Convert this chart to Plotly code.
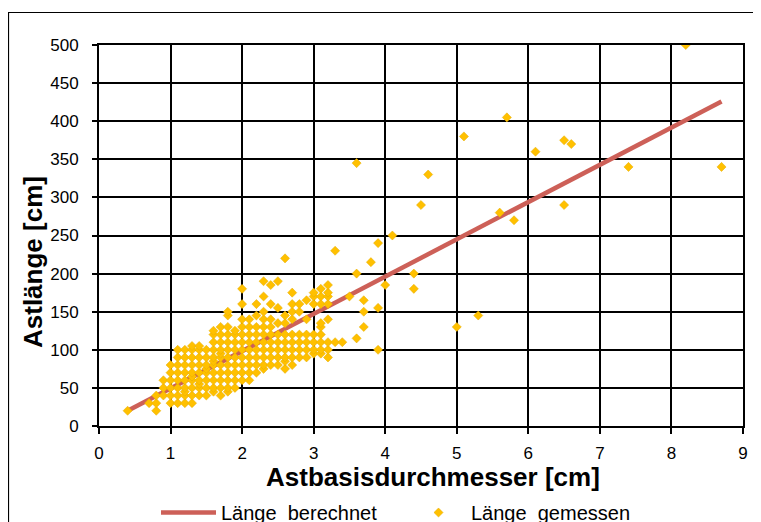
import plotly.graph_objects as go

# Regression line (Länge berechnet)
line_x = [0.4, 8.7]
line_y = [20, 426]

# Measured values (Länge gemessen), grouped by diameter column
col_x = [0.4, 0.7, 0.8, 0.9, 1.0, 1.1, 1.2, 1.3, 1.4, 1.5, 1.6, 1.7, 1.8, 1.9,
         2.0, 2.1, 2.2, 2.3, 2.4, 2.5, 2.6, 2.7, 2.8, 2.9, 3.0, 3.1, 3.2, 3.3,
         3.4, 3.5, 3.6, 3.7, 3.8, 3.9, 4.0, 4.1, 4.4, 4.5, 4.6, 5.0, 5.1, 5.3,
         5.6, 5.7, 5.8, 6.1, 6.5, 6.6, 7.4, 8.2, 8.7]
col_y = [
    [20],
    [30],
    [20, 30, 40],
    [40, 50, 60],
    [30, 40, 50, 60, 70, 80],
    [30, 40, 50, 60, 70, 80, 90, 100],
    [30, 40, 45, 50, 60, 70, 80, 90, 100],
    [30, 40, 50, 60, 65, 70, 80, 90, 100, 105],
    [40, 50, 55, 60, 70, 80, 90, 100, 105],
    [40, 50, 60, 70, 75, 80, 90, 100],
    [45, 50, 60, 70, 80, 85, 90, 100, 110, 120, 125],
    [40, 50, 60, 70, 80, 90, 95, 100, 110, 120, 130],
    [45, 50, 60, 70, 80, 90, 100, 110, 120, 130, 145, 150],
    [50, 60, 70, 80, 90, 100, 110, 120, 125],
    [60, 70, 80, 90, 100, 110, 120, 130, 140, 160, 180],
    [60, 70, 80, 90, 100, 110, 120, 130, 140],
    [70, 80, 90, 100, 110, 120, 130, 145, 160],
    [75, 80, 90, 100, 110, 120, 130, 140, 150, 170, 190],
    [80, 90, 100, 110, 120, 130, 140, 160, 185],
    [80, 90, 100, 110, 120, 135, 155, 190],
    [75, 85, 90, 100, 110, 120, 135, 145, 220],
    [80, 90, 100, 110, 120, 140, 150, 160, 175],
    [90, 100, 110, 120, 150, 160],
    [90, 100, 110, 120, 140, 165],
    [95, 100, 110, 120, 160, 170, 175],
    [95, 100, 110, 120, 130, 135, 160, 170, 180],
    [90, 100, 110, 140, 160, 170, 175, 185],
    [110, 230],
    [110],
    [170],
    [115, 200, 345],
    [130, 150, 165],
    [215],
    [100, 155, 240],
    [185],
    [250],
    [180, 200],
    [290],
    [330],
    [130],
    [380],
    [145],
    [280],
    [405],
    [270],
    [360],
    [290, 375],
    [370],
    [340],
    [500],
    [340],
]

x_ticks = [0, 1, 2, 3, 4, 5, 6, 7, 8, 9]
y_ticks = [0, 50, 100, 150, 200, 250, 300, 350, 400, 450, 500]

meas_x = []
meas_y = []
for xv, ys in zip(col_x, col_y):
    for yv in ys:
        meas_x.append(xv)
        meas_y.append(yv)

FONT = "Arial, Liberation Sans, sans-serif"

fig = go.Figure()
fig.add_trace(go.Scatter(
    x=line_x, y=line_y, mode="lines",
    name="Länge\u00a0 berechnet",
    line=dict(color="#CD6058", width=4.5),
))
fig.add_trace(go.Scatter(
    x=meas_x, y=meas_y, mode="markers",
    name="Länge\u00a0 gemessen",
    marker=dict(symbol="diamond", size=7, color="#FFC000",
                line=dict(width=0.5, color="#E5AC00")),
))

# the page body adds an 8 px offset, so the figure is 8 px smaller
W, H = 753, 514
L, R, T, B = 91, 18, 37, 96
# plot area in page pixels
PX0, PX1, PY0, PY1 = 99, 743, 45, 426

def px_x(p):
    return (p - PX0) / (PX1 - PX0)

def px_y(p):
    return (PY1 - p) / (PY1 - PY0)

fig.update_layout(
    width=W, height=H,
    margin=dict(l=L, r=R, t=T, b=B, autoexpand=False),
    paper_bgcolor="white", plot_bgcolor="white",
    font=dict(family=FONT, color="black", size=17),
    showlegend=True,
    legend=dict(orientation="h", x=px_x(156), xanchor="left",
                y=px_y(493), yanchor="top",
                font=dict(family=FONT, size=20, color="black"),
                itemwidth=55,
                entrywidth=180, entrywidthmode="pixels",
                bgcolor="rgba(0,0,0,0)", tracegroupgap=0),
    xaxis=dict(range=[0, 9], tickvals=x_ticks, ticks="outside", ticklen=6,
               tickwidth=1.5, tickcolor="black", automargin=False,
               showgrid=True, gridcolor="black", gridwidth=2,
               showline=True, linecolor="black", linewidth=2, mirror=True,
               zeroline=False, ticklabelstandoff=5,
               tickfont=dict(family=FONT, size=17, color="black")),
    yaxis=dict(range=[0, 500], tickvals=y_ticks, ticks="outside", ticklen=5,
               tickwidth=1.5, tickcolor="black", automargin=False,
               showgrid=True, gridcolor="black", gridwidth=2,
               showline=True, linecolor="black", linewidth=2, mirror=True,
               zeroline=False, ticklabelstandoff=10,
               tickfont=dict(family=FONT, size=17, color="black")),
    annotations=[
        dict(text="<b>Astbasisdurchmesser [cm]</b>", xref="paper", yref="paper",
             x=px_x(433), y=px_y(477), xanchor="center", yanchor="middle",
             showarrow=False, font=dict(family=FONT, size=26, color="black")),
        dict(text="<b>Astlänge [cm]</b>", xref="paper", yref="paper",
             x=px_x(33), y=px_y(262), xanchor="center", yanchor="middle",
             textangle=-90, showarrow=False,
             font=dict(family=FONT, size=26, color="black")),
    ],
    shapes=[
        dict(type="rect", xref="paper", yref="paper",
             x0=px_x(8.5), x1=px_x(800), y0=px_y(600), y1=px_y(12.5),
             line=dict(color="black", width=1.2), fillcolor="rgba(0,0,0,0)",
             layer="below"),
    ],
)

fig.write_html("out.html")
